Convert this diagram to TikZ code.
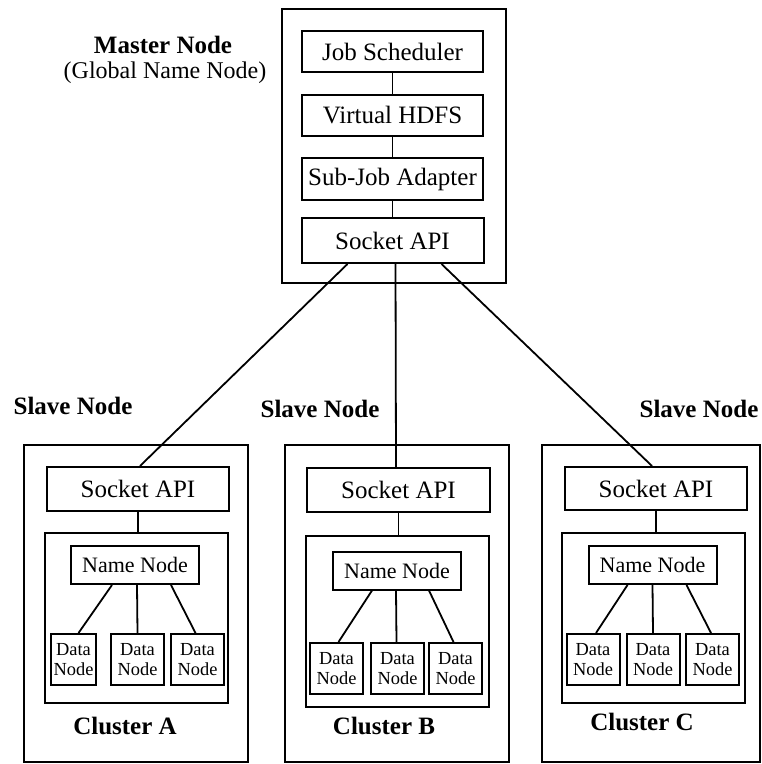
\documentclass[tikz,border=0pt]{standalone}
\usepackage{fontspec}
\setmainfont{Liberation Serif}
\usetikzlibrary{calc}

\begin{document}
\begin{tikzpicture}[x=.5pt,y=-.5pt,
  box/.style={draw,line width=1pt,inner sep=0pt,font=\fontsize{12.5}{14}\selectfont},
  namebox/.style={box,minimum width=64pt,minimum height=19pt,font=\fontsize{11}{13}\selectfont},
  databox/.style={box,minimum width=26.5pt,minimum height=25.5pt,align=center,font=\fontsize{9.2}{10}\selectfont},
  wire/.style={line width=.9pt},
  title/.style={font=\bfseries\fontsize{12.5}{14}\selectfont}]
\useasboundingbox (0,0) rectangle (761,764);

\node[box,minimum width=112pt,minimum height=137pt] (master) at (394,146) {};
\node[box,minimum width=90.5pt,minimum height=20.5pt] (sched) at (392.5,51.5) {Job Scheduler};
\node[box,minimum width=90.5pt,minimum height=20.5pt] (hdfs) at (392.5,115.5) {Virtual HDFS};
\node[box,minimum width=90.5pt,minimum height=21pt] (adapt) at (392.5,179) {Sub-Job Adapter};
\node[box,minimum width=91pt,minimum height=22.5pt] (msock) at (392.5,240.5) {Socket API};
\draw[wire] (sched) -- (hdfs);
\draw[wire] (hdfs) -- (adapt);
\draw[wire] (adapt) -- (msock);
\node[title] (mtitle) at (163,45) {Master Node};
\node[font=\fontsize{12}{14}\selectfont] (msub) at (165,73) {(Global Name Node)};

\node[box,minimum width=112pt,minimum height=158.5pt] (slaveA) at (136,603.5) {};
\node[box,minimum width=91pt,minimum height=22pt] (sockA) at (138,489) {Socket API};
\node[box,minimum width=91.5pt,minimum height=85pt] (clusA) at (136.5,618) {};
\node[namebox] (nameA) at (135,565) {Name Node};
\node[databox,minimum width=22.5pt] (dataA1) at (73.5,659.5) {Data\\Node};
\node[databox] (dataA2) at (137.5,659.5) {Data\\Node};
\node[databox] (dataA3) at (197.5,659.5) {Data\\Node};
\draw[wire] (sockA) -- (sockA |- clusA.north);
\draw[wire] ($(nameA.south)+(-23,0)$) -- ($(dataA1.north)+(5,0)$);
\draw[wire] ($(nameA.south)+(2,0)$) -- (dataA2.north);
\draw[wire] ($(nameA.south)+(36,0)$) -- ($(dataA3.north)+(-2,0)$);
\node[title] (slabA) at (73,405.5) {Slave Node};
\node[title] (cluA) at (125,726) {Cluster A};

\node[box,minimum width=112pt,minimum height=158.5pt] (slaveB) at (397,603.5) {};
\node[box,minimum width=91.5pt,minimum height=22pt] (sockB) at (398.5,490) {Socket API};
\node[box,minimum width=91.5pt,minimum height=85.5pt] (clusB) at (397.5,621.5) {};
\node[namebox] (nameB) at (397,570.5) {Name Node};
\node[databox] (dataB1) at (336.5,668.5) {Data\\Node};
\node[databox] (dataB2) at (397.5,668.5) {Data\\Node};
\node[databox] (dataB3) at (455.5,668.5) {Data\\Node};
\draw[wire] (sockB) -- (sockB |- clusB.north);
\draw[wire] ($(nameB.south)+(-25,0)$) -- ($(dataB1.north)+(2,0)$);
\draw[wire] ($(nameB.south)+(-1,0)$) -- ($(dataB2.north)+(-1,0)$);
\draw[wire] ($(nameB.south)+(32,0)$) -- ($(dataB3.north)+(-2,0)$);
\node[title] (slabB) at (320,408.5) {Slave Node};
\node[title] (cluB) at (384,726) {Cluster B};

\node[box,minimum width=109pt,minimum height=158.5pt] (slaveC) at (651,603.5) {};
\node[box,minimum width=91pt,minimum height=21.5pt] (sockC) at (656,488.5) {Socket API};
\node[box,minimum width=91.5pt,minimum height=85pt] (clusC) at (653.5,618) {};
\node[namebox] (nameC) at (652.5,565) {Name Node};
\node[databox] (dataC1) at (593,659.5) {Data\\Node};
\node[databox] (dataC2) at (653,659.5) {Data\\Node};
\node[databox] (dataC3) at (712.5,659.5) {Data\\Node};
\draw[wire] (sockC) -- (sockC |- clusC.north);
\draw[wire] ($(nameC.south)+(-25,0)$) -- ($(dataC1.north)+(3,0)$);
\draw[wire] (nameC.south) -- (dataC2.north);
\draw[wire] ($(nameC.south)+(34,0)$) -- ($(dataC3.north)+(-1.5,0)$);
\node[title] (slabC) at (699,409) {Slave Node};
\node[title] (cluC) at (642,722) {Cluster C};

\draw[wire] ($(msock.south)+(-45,0)$) -- ($(sockA.north)+(2,0)$);
\draw[wire] ($(msock.south)+(3,0)$) -- ($(sockB.north)+(-2.5,0)$);
\draw[wire] ($(msock.south)+(49,0)$) -- ($(sockC.north)+(-4,0)$);
\end{tikzpicture}
\end{document}
